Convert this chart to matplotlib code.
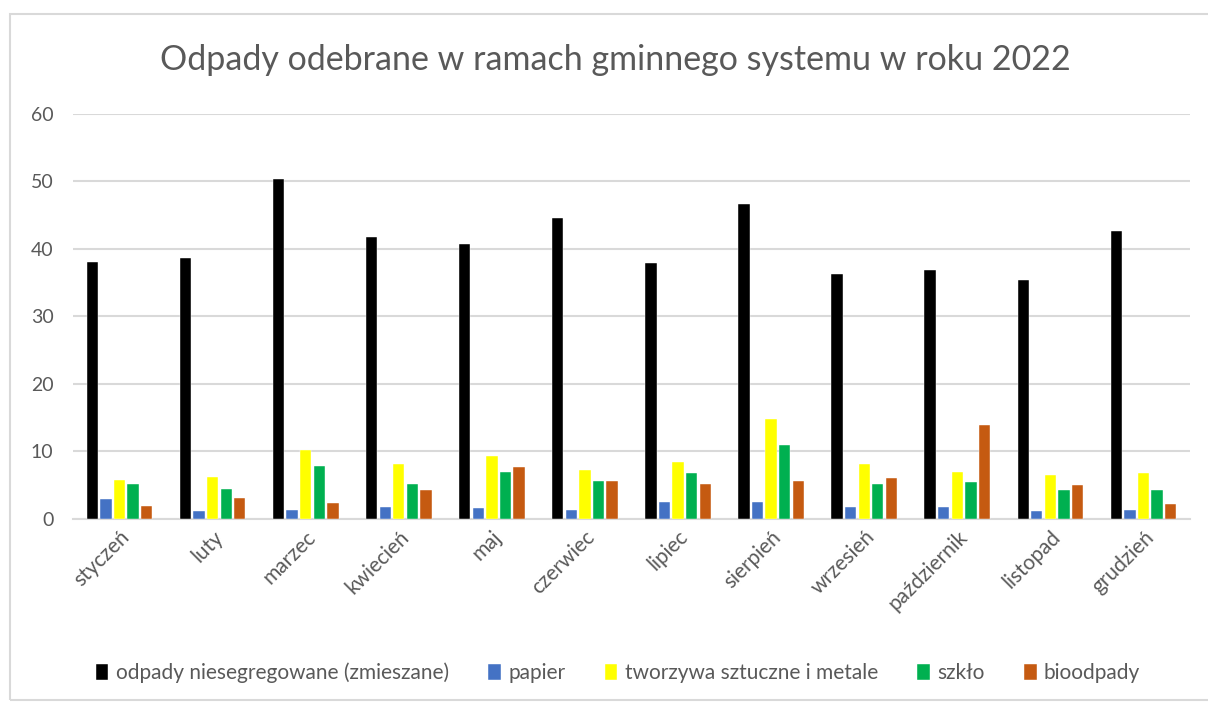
import matplotlib
matplotlib.use("Agg")
import matplotlib.pyplot as plt
from matplotlib.patches import Rectangle
import numpy as np

months = ["styczeń", "luty", "marzec", "kwiecień", "maj", "czerwiec",
          "lipiec", "sierpień", "wrzesień", "październik", "listopad", "grudzień"]
series_names = ["odpady niesegregowane (zmieszane)", "papier",
                "tworzywa sztuczne i metale", "szkło", "bioodpady"]
zmieszane = [38.1, 38.7, 50.4, 41.8, 40.7, 44.5, 37.9, 46.6, 36.2, 36.8, 35.4, 42.6]
papier = [2.9, 1.15, 1.3, 1.7, 1.55, 1.3, 2.45, 2.45, 1.7, 1.7, 1.15, 1.3]
tworzywa = [5.75, 6.1, 10.15, 8.05, 9.2, 7.25, 8.45, 14.75, 8.05, 6.9, 6.5, 6.7]
szklo = [5.15, 4.4, 7.85, 5.15, 6.9, 5.55, 6.7, 10.9, 5.15, 5.35, 4.2, 4.2]
bio = [1.9, 3.05, 2.3, 4.25, 7.7, 5.55, 5.15, 5.55, 5.95, 13.85, 5.0, 2.1]
colors = ["#000000", "#4472C4", "#FFFF00", "#00B050", "#C55A11"]
yticks = [0, 10, 20, 30, 40, 50, 60]

plt.rcParams['font.family'] = ['Lato', 'DejaVu Sans']
gray = "#595959"

fig = plt.figure(figsize=(12.08, 7.04), dpi=100)
fig.patches.append(Rectangle((10/1208, 1 - 700/704), 1.2, (700-14)/704,
                             transform=fig.transFigure, fill=False,
                             edgecolor="#d9d9d9", linewidth=1.5))
ax = fig.add_axes([73/1208, 1 - 518.5/704, (1190-73)/1208, (518.5-114)/704])

data = [zmieszane, papier, tworzywa, szklo, bio]
x = np.arange(len(months))
slot = 0.146
bw = 0.122
for i, (vals, c, name) in enumerate(zip(data, colors, series_names)):
    ax.bar(x + (i - 2) * slot, vals, width=bw, color=c, label=name, zorder=3,
           edgecolor="white", linewidth=0.3)

ax.set_xlim(-0.5, len(months) - 0.5)
ax.set_ylim(0, 60)
ax.set_yticks(yticks)
ax.set_yticklabels([str(v) for v in yticks], fontsize=14, color=gray)
ax.yaxis.grid(True, color="#d9d9d9", linewidth=1.5, zorder=0)
ax.tick_params(axis='y', length=0, pad=14)
ax.tick_params(axis='x', length=0, pad=6)
ax.set_xticks(x)
ax.set_xticklabels(months, rotation=45, ha="right", rotation_mode="anchor",
                   fontsize=15, color=gray)
for s in ["top", "right", "left"]:
    ax.spines[s].set_visible(False)
ax.spines["bottom"].set_color("#d9d9d9")
ax.spines["bottom"].set_linewidth(1.5)

fig.text(615/1208, 1 - 60/704, "Odpady odebrane w ramach gminnego systemu w roku 2022",
         ha="center", va="center", fontsize=24.5, color=gray)

leg = fig.legend(loc="center", bbox_to_anchor=(618/1208, 1 - 673/704), ncol=5,
                 frameon=False, fontsize=15, handlelength=0.6, handleheight=0.8,
                 handletextpad=0.35, columnspacing=1.9, labelcolor=gray)

fig.savefig("out.png", dpi=100)
